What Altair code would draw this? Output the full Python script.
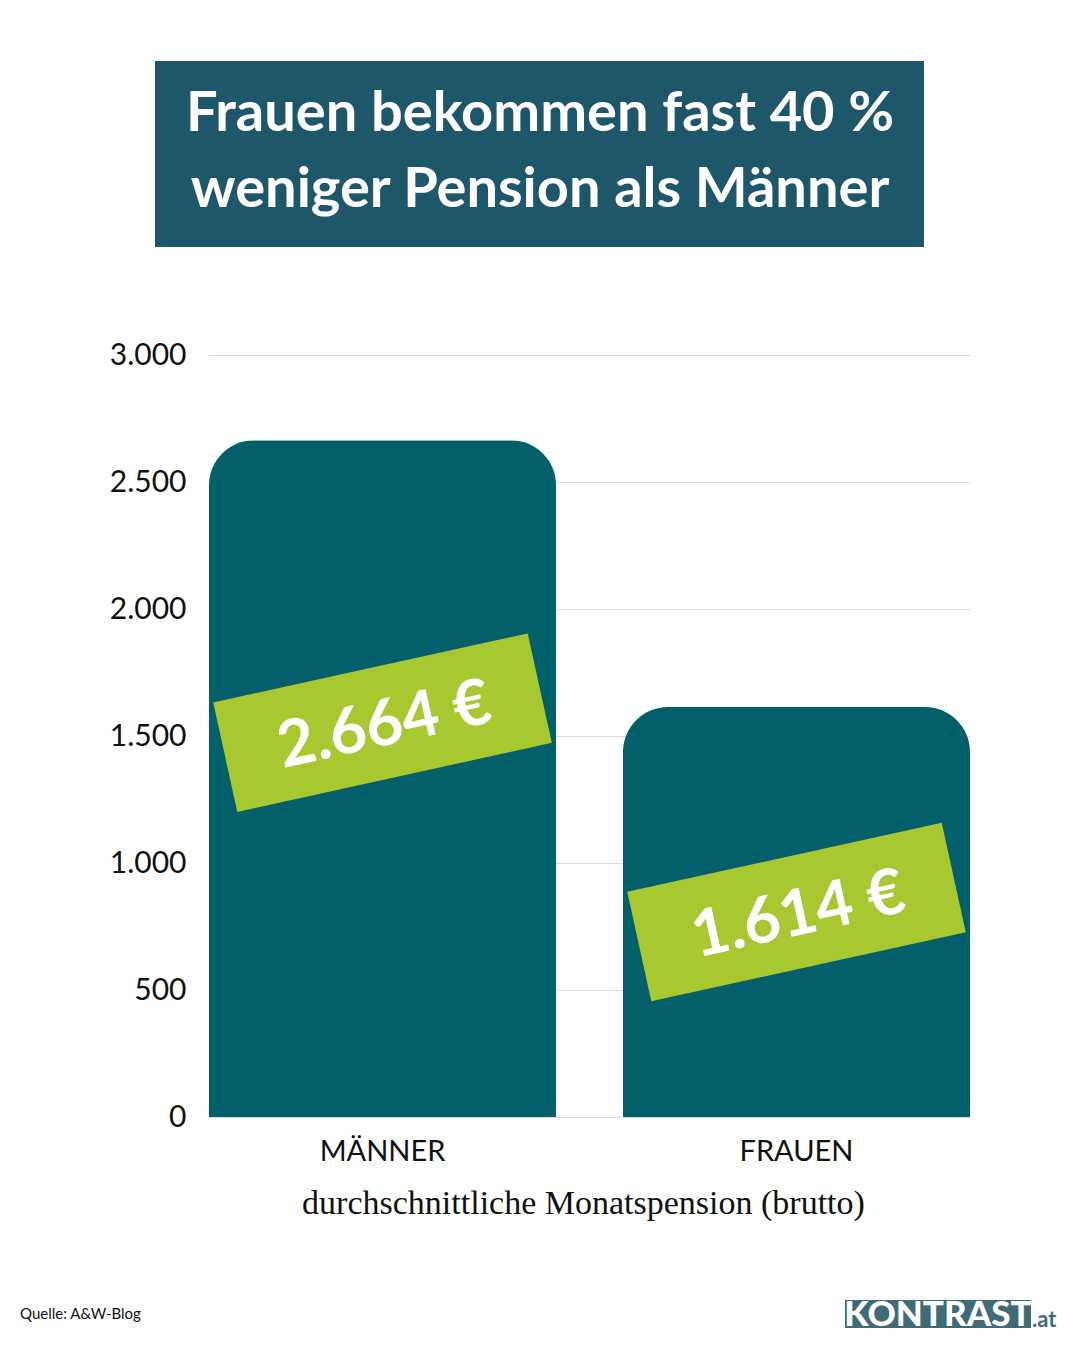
import altair as alt
import pandas as pd

# ---- data ----
categories = ["MÄNNER", "FRAUEN"]
values = [2664, 1614]
value_labels = ["2.664 €", "1.614 €"]
y_ticks = [0, 500, 1000, 1500, 2000, 2500, 3000]
title_lines = ["Frauen bekommen fast 40 %", "weniger Pension als Männer"]
x_title = "durchschnittliche Monatspension (brutto)"
source_text = "Quelle: A&W-Blog"
logo_main = "KONTRAST"
logo_suffix = ".at"

df = pd.DataFrame({"cat": categories, "value": values, "label": value_labels})
one = pd.DataFrame({"a": [0]})

BAR = "#035F69"
TITLE_BG = "#1D5769"
GREEN = "#A8C832"
LOGO = "#3E6B76"
FONT = "Lato"

W, H = 761, 762

xscale = alt.Scale(paddingInner=0.1618, paddingOuter=0)
xaxis = alt.Axis(title=x_title, labelFontSize=29, labelFont=FONT,
                 labelColor="#111", labelPadding=20, labelAngle=0,
                 domain=False, ticks=False, grid=False,
                 titleFont="Liberation Serif", titleFontSize=34,
                 titleFontWeight="normal", titleColor="#111",
                 titlePadding=20, titleX=374, titleAnchor="middle",
                 titleAlign="center")
yscale = alt.Scale(domain=[0, 3000], nice=False)
yaxis = alt.Axis(title=None, values=y_ticks, labelFontSize=30,
                 labelFont=FONT, labelColor="#111", labelPadding=23,
                 labelExpr="replace(format(datum.value, ','), ',', '.')",
                 domain=False, ticks=False, gridColor="#dddddd",
                 gridWidth=1)

xenc = alt.X("cat:N", sort=categories, scale=xscale, axis=xaxis)

base = alt.Chart(df)

bars = base.mark_bar(color=BAR, cornerRadiusTopLeft=45,
                     cornerRadiusTopRight=45).encode(
    x=xenc, y=alt.Y("value:Q", scale=yscale, axis=yaxis))

box_path = "M -1 -0.348 L 1 -0.348 L 1 0.348 L -1 0.348 Z"

def label_layer(cat, yoff):
    src = base.transform_filter(alt.datum.cat == cat).transform_calculate(
        mid="datum.value / 2")
    yenc = alt.Y("mid:Q", scale=yscale, axis=yaxis)
    box = src.mark_point(shape=box_path, size=322 * 322, filled=True,
                         opacity=1, color=GREEN, angle=347.6,
                         yOffset=yoff, strokeWidth=0).encode(x=xenc, y=yenc)
    txt = src.mark_text(color="white", font=FONT, fontWeight="bold",
                        fontSize=64, angle=347.6, align="center",
                        baseline="middle", yOffset=yoff + 4, dx=2).encode(
        x=xenc, y=yenc, text="label:N")
    return box + txt

lab_m = label_layer("MÄNNER", -56)
lab_f = label_layer("FRAUEN", 0)

# title box
title_rect = alt.Chart(one).mark_rect(color=TITLE_BG).encode(
    x=alt.value(155 - 209), x2=alt.value(924 - 209),
    y=alt.value(61 - 355), y2=alt.value(247 - 355))

def title_line(text, ypix):
    return alt.Chart(pd.DataFrame({"t": [text]})).mark_text(
        color="white", font=FONT, fontWeight="bold", fontSize=56,
        align="center", baseline="middle").encode(
        x=alt.value(540 - 209), y=alt.value(ypix - 355), text="t:N")

title1 = title_line(title_lines[0], 114)
title2 = title_line(title_lines[1], 190)

# footer
src_txt = alt.Chart(pd.DataFrame({"t": [source_text]})).mark_text(
    font=FONT, fontSize=15, color="#111", align="left",
    baseline="middle").encode(x=alt.value(20 - 209), y=alt.value(1314 - 355),
                              text="t:N")
logo_rect = alt.Chart(one).mark_rect(color=LOGO).encode(
    x=alt.value(845 - 209), x2=alt.value(1031 - 209),
    y=alt.value(1300 - 355), y2=alt.value(1328 - 355))
logo_txt = alt.Chart(pd.DataFrame({"t": [logo_main]})).mark_text(
    font=FONT, fontWeight=900, fontSize=35, color="white", align="center",
    baseline="middle").encode(x=alt.value(938 - 209), y=alt.value(1315 - 355),
                              text="t:N")
logo_at = alt.Chart(pd.DataFrame({"t": [logo_suffix]})).mark_text(
    font=FONT, fontWeight="bold", fontSize=22, color=LOGO, align="left",
    baseline="alphabetic").encode(x=alt.value(1032 - 209),
                                  y=alt.value(1327 - 355), text="t:N")

chart = alt.layer(bars, lab_m, lab_f, title_rect, title1, title2, src_txt,
                  logo_rect, logo_txt, logo_at).properties(
    width=W, height=H,
    background="white",
    autosize=alt.AutoSizeParams(type="none"),
    padding={"left": 201, "top": 347, "right": 102, "bottom": 222},
).configure_view(strokeWidth=0, stroke="transparent")

chart.save("out.html", embed_options={"renderer": "svg", "actions": False})
